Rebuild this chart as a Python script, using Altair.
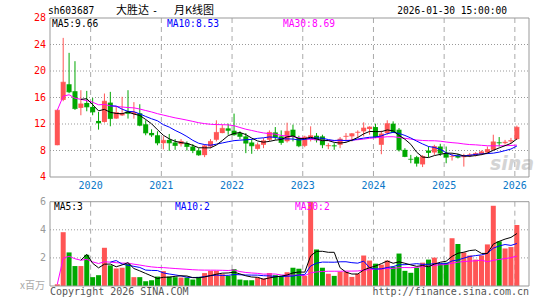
import altair as alt
import pandas as pd

# ---- data (monthly K-line, Jul 2019 .. Jan 2026) ----
start_year, start_month = 2019, 7
open_ = [8.8, 15.64, 18.0, 16.95, 14.43, 15.18, 14.58, 12.46, 12.31, 15.23,
         12.82, 13.3, 13.9, 13.5, 13.62, 11.96, 10.65, 10.3, 9.1, 9.6,
         9.21, 8.96, 9.11, 8.6, 8.0, 7.3, 8.6, 9.62, 10.63, 11.34,
         10.99, 10.63, 10.13, 9.21, 8.25, 8.86, 9.62, 10.73, 10.13, 9.4,
         11.14, 9.87, 8.71, 9.72, 10.23, 10.13, 8.65, 8.75, 8.86, 10.08,
         10.13, 10.7, 10.89, 11.24, 11.54, 8.86, 10.63, 12.05, 11.14, 8.1,
         6.72, 6.99, 5.9, 8.0, 7.7, 8.6, 7.6, 7.05, 7.19, 6.99,
         7.2, 7.29, 7.5, 7.7, 8.1, 9.21, 9.11, 9.37, 9.72]
high = [14.1, 25.0, 22.74, 21.48, 17.1, 17.0, 15.94, 13.82, 16.6, 16.85,
        14.58, 16.1, 17.1, 15.3, 14.98, 12.56, 11.2, 10.9, 10.15, 10.5,
        9.72, 9.72, 9.37, 8.96, 8.35, 8.9, 9.72, 12.56, 11.9, 12.05,
        13.57, 10.89, 10.63, 9.72, 9.21, 9.87, 11.04, 11.54, 11.04, 12.2,
        11.9, 10.23, 10.23, 11.65, 10.63, 10.38, 9.11, 9.11, 10.03, 10.63,
        10.63, 11.04, 12.25, 11.65, 12.05, 11.0, 12.56, 12.4, 11.39, 8.35,
        7.34, 7.19, 7.3, 8.6, 8.86, 9.01, 8.6, 7.5, 7.5, 7.5,
        7.6, 7.75, 8.0, 8.6, 10.38, 10.03, 9.6, 9.9, 11.75]
low = [8.79, 15.44, 16.65, 14.13, 13.32, 13.92, 13.32, 11.15, 12.2, 11.66,
       12.77, 13.2, 12.82, 12.8, 11.66, 10.3, 10.05, 8.79, 8.18, 7.95,
       8.1, 8.6, 8.0, 7.6, 7.2, 7.0, 8.35, 9.37, 10.6, 10.38,
       10.23, 9.72, 7.6, 7.5, 8.1, 8.35, 9.37, 9.62, 8.86, 9.2,
       9.37, 8.5, 8.5, 9.37, 9.21, 8.35, 8.2, 8.1, 8.35, 9.37,
       9.37, 9.87, 10.13, 10.38, 9.87, 7.44, 10.38, 10.63, 7.85, 6.99,
       6.08, 5.57, 5.5, 6.99, 7.34, 7.19, 6.08, 6.48, 6.8, 5.57,
       7.0, 7.1, 7.3, 7.5, 8.0, 8.6, 8.9, 9.1, 9.6]
close = [14.08, 18.31, 16.85, 14.33, 15.03, 14.58, 13.82, 12.16, 15.44, 12.82,
         13.72, 13.6, 13.6, 13.75, 11.81, 10.65, 10.35, 9.14, 9.54, 9.15,
         8.76, 9.37, 8.6, 8.0, 7.34, 8.7, 9.37, 10.73, 11.34, 11.04,
         10.38, 10.13, 9.11, 8.71, 8.86, 9.47, 10.73, 10.03, 9.21, 10.9,
         10.13, 8.71, 10.03, 10.23, 9.62, 8.86, 8.75, 8.68, 9.72, 10.15,
         10.53, 10.76, 11.39, 11.54, 10.03, 10.5, 12.05, 10.73, 8.1, 7.09,
         6.68, 6.08, 7.1, 7.7, 8.6, 7.6, 6.99, 7.09, 6.99, 7.19,
         7.35, 7.55, 7.8, 8.15, 9.3, 9.15, 9.25, 9.5, 11.5]
volume = [0.12, 3.83, 2.39, 1.42, 1.42, 2.22, 0.63, 0.77, 2.72, 1.47,
          1.25, 1.30, 1.57, 0.63, 0.63, 0.34, 0.41, 0.67, 1.06, 0.67,
          0.63, 0.60, 0.60, 0.46, 0.65, 0.92, 1.08, 1.08, 0.84, 0.72,
          1.2, 0.46, 0.41, 0.41, 0.6, 0.53, 0.92, 0.77, 0.7, 0.98,
          1.3, 1.23, 0.72, 6.5, 2.6, 1.3, 0.87, 0.72, 1.01, 1.01,
          0.65, 0.87, 2.17, 1.81, 1.59, 1.52, 1.81, 1.37, 2.31, 1.08,
          0.94, 1.3, 1.66, 1.88, 2.02, 1.59, 1.66, 3.4, 2.99, 2.39,
          2.17, 1.88, 2.17, 2.96, 5.71, 3.18, 2.67, 2.77, 4.34]

year_labels = ["2020", "2021", "2022", "2023", "2024", "2025", "2026"]
price_ticks = [4, 8, 12, 16, 20, 24, 28]
price_grid = [8, 12, 16, 20, 24]
vol_ticks = [2, 4, 6]
vol_grid = [2, 4]

n = len(close)
months = []
for k in range(n):
    m = start_month - 1 + k
    months.append(f"{start_year + m // 12}-{m % 12 + 1:02d}")

df = pd.DataFrame({
    "i": list(range(n)), "month": months,
    "open": open_, "high": high, "low": low, "close": close, "vol": volume,
})
df["dir"] = ["up" if c >= o else "down" for o, c in zip(open_, close)]

# year grid positions (January index, line drawn just left of the candle)
year_idx = [months.index(y + "-01") - 0.34 for y in year_labels]
years_df = pd.DataFrame({"gx": year_idx, "label": year_labels})

RED = "#ff5555"
GREEN = "#00a800"
MONO = "DejaVu Sans Mono"
CJK = "Noto Sans CJK SC"
GRID_V = "#aaaaaa"
GRID_H = "#999999"
FRAME = "#999999"

X0, X1 = 50, 529
PT, PB = 18, 177
VT, VB = 201.7, 286

xs = alt.Scale(domain=[0, n - 1], range=[52.3, 52.3 + 6.02 * (n - 1)], nice=False, zero=False)
ps = alt.Scale(domain=[4, 28], range=[PB, PT], nice=False, zero=False)
vs = alt.Scale(domain=[0, 6], range=[VB, VT], nice=False, zero=False, clamp=True)
cs = alt.Scale(domain=["up", "down"], range=[RED, GREEN])

X = alt.X("i:Q", scale=xs, axis=None)
base = alt.Chart(df)
one = alt.Data(values=[{"t": ""}])


def label(txt, x, y, color, size=9.6, align="left", font=MONO, **kw):
    return alt.Chart(alt.Data(values=[{"t": txt}])).mark_text(
        align=align, baseline="middle", color=color, fontSize=size, font=font, **kw
    ).encode(x=alt.value(x), y=alt.value(y), text="t:N")


layers = []

# grids
for top, bot in [(PT, PB), (VT, VB)]:
    layers.append(alt.Chart(years_df).mark_rule(color=GRID_V, strokeWidth=1, strokeDash=[5, 4]).encode(
        x=alt.X("gx:Q", scale=xs, axis=None), y=alt.value(top), y2=alt.value(bot)))
layers.append(alt.Chart(pd.DataFrame({"p": price_grid})).mark_rule(color=GRID_H, strokeWidth=1, strokeDash=[1, 2]).encode(
    y=alt.Y("p:Q", scale=ps, axis=None), x=alt.value(X0), x2=alt.value(X1)))
layers.append(alt.Chart(pd.DataFrame({"v": vol_grid})).mark_rule(color=GRID_H, strokeWidth=1, strokeDash=[1, 2]).encode(
    y=alt.Y("v:Q", scale=vs, axis=None), x=alt.value(X0), x2=alt.value(X1)))

# watermark
layers.append(label("sina", 512, 164, "#d4d4d4", size=19, align="center", font="DejaVu Sans",
                    fontStyle="italic", fontWeight="bold"))

# candles
col = alt.Color("dir:N", scale=cs, legend=None)
layers.append(base.mark_rule(strokeWidth=1).encode(
    x=X, y=alt.Y("low:Q", scale=ps, axis=None), y2="high:Q", color=col))
layers.append(base.mark_bar(width=5).encode(
    x=X, y=alt.Y("open:Q", scale=ps, axis=None), y2="close:Q", color=col))
layers.append(base.mark_tick(orient="horizontal", size=5, thickness=1).encode(
    x=X, y=alt.Y("close:Q", scale=ps, axis=None), color=col))

# price MAs
for nwin, c in [(30, "#ff00ff"), (10, "#0000ff"), (5, "#000000")]:
    ch = base.transform_window(ma="mean(close)", frame=[-(nwin - 1), 0], sort=[alt.SortField("i")])
    if nwin < 30:
        ch = ch.transform_filter(f"datum.i >= {nwin - 1}")
    layers.append(ch.mark_line(color=c, strokeWidth=1).encode(
        x=X, y=alt.Y("ma:Q", scale=ps, axis=None)))

# volume bars
layers.append(base.mark_bar(width=5).encode(
    x=X, y=alt.Y("vol:Q", scale=vs, axis=None), color=col))
for nwin, c in [(30, "#ff00ff"), (10, "#0000ff"), (5, "#000000")]:
    ch = base.transform_window(mv="mean(vol)", frame=[-(nwin - 1), 0], sort=[alt.SortField("i")])
    if nwin < 30:
        ch = ch.transform_filter(f"datum.i >= {nwin - 1}")
    layers.append(ch.mark_line(color=c, strokeWidth=1).encode(
        x=X, y=alt.Y("mv:Q", scale=vs, axis=None)))

# frames
for top, bot in [(PT, PB), (VT, VB)]:
    layers.append(alt.Chart(one).mark_rect(fillOpacity=0, stroke=FRAME, strokeWidth=1).encode(
        x=alt.value(X0), x2=alt.value(X1), y=alt.value(top), y2=alt.value(bot)))

# axis labels
layers.append(alt.Chart(pd.DataFrame({"p": price_ticks})).mark_text(
    align="right", baseline="middle", color="#ff0000", fontSize=10, font=MONO).encode(
    x=alt.value(46), y=alt.Y("p:Q", scale=ps, axis=None), text="p:N"))
layers.append(alt.Chart(years_df).mark_text(
    align="center", baseline="middle", color="#0a78c8", fontSize=10, font=MONO).encode(
    x=alt.X("gx:Q", scale=xs, axis=None), y=alt.value(186), text="label:N"))
layers.append(alt.Chart(pd.DataFrame({"v": vol_ticks})).mark_text(
    align="right", baseline="middle", color="#999999", fontSize=10, font=MONO).encode(
    x=alt.value(46), y=alt.Y("v:Q", scale=vs, axis=None), text="v:N"))

# texts
layers += [
    label("sh603687", 48, 11, "#000000"),
    label("大胜达", 116, 11, "#000000", size=11, font=CJK),
    label("-", 155, 11, "#000000", size=10, align="center"),
    label("月K线图", 174, 11, "#000000", size=11, font=CJK),
    label("2026-01-30 15:00:00", 507, 11, "#000000", align="right"),
    label("MA5:9.66", 52, 24, "#000000"),
    label("MA10:8.53", 167, 24, "#0000ff"),
    label("MA30:8.69", 283, 24, "#ff00ff"),
    label("MA5:3", 54, 207, "#000000"),
    label("MA10:2", 175, 207, "#0000ff"),
    label("MA30:2", 295, 207, "#ff00ff"),
    label("x百万", 45, 286, "#aaaaaa", size=10, align="right", font=CJK),
    label("Copyright 2026 SINA.COM", 50, 292, "#555555", size=10),
    label("http://finance.sina.com.cn", 529, 292, "#555555", size=10, align="right"),
]

chart = alt.layer(*layers).resolve_scale(y="independent").properties(
    width=545, height=300, autosize=alt.AutoSizeParams(type="none"), padding=0
).configure_view(stroke=None)

chart.save("out.html", embed_options={"renderer": "svg", "actions": False})
